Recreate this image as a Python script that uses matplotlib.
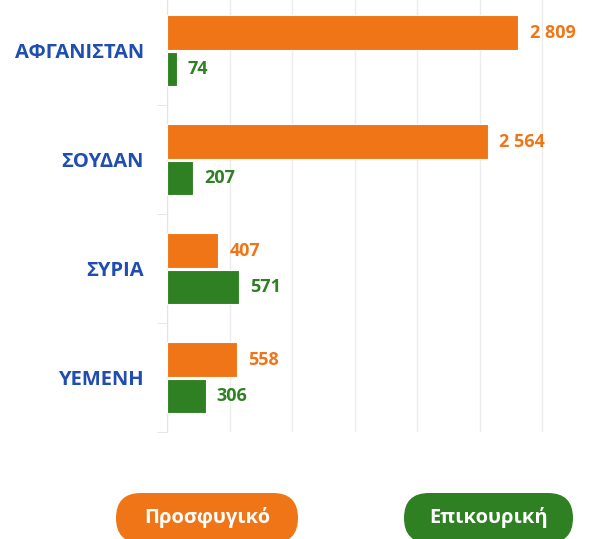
import matplotlib.pyplot as plt
from matplotlib.patches import FancyBboxPatch

countries = ["ΑΦΓΑΝΙΣΤΑΝ", "ΣΟΥΔΑΝ", "ΣΥΡΙΑ", "ΥΕΜΕΝΗ"]
prosfygiko = [2809, 2564, 407, 558]
epikouriki = [74, 207, 571, 306]
series_names = ["Προσφυγικό", "Επικουρική"]

ORANGE = "#f07516"
GREEN = "#2e8022"
BLUE = "#1f4db0"
plt.rcParams['font.family'] = ['Open Sans', 'DejaVu Sans']

W, H = 603, 539
fig = plt.figure(figsize=(W / 100, H / 100), dpi=100)

# plot area in pixel terms
x0, x1 = 167.3, 592.0
ytop, ybot = -4.0, 432.0
ax = fig.add_axes([x0 / W, (H - ybot) / H, (x1 - x0) / W, (ybot - ytop) / H])

xmax = (x1 - x0) / 0.125
h = 0.315
ys = range(len(countries))
ax.barh([y - 0.165 for y in ys], prosfygiko, height=h, color=ORANGE,
        edgecolor="white", linewidth=0.8, zorder=3)
ax.barh([y + 0.17 for y in ys], epikouriki, height=h, color=GREEN,
        edgecolor="white", linewidth=0.8, zorder=3)

def fmt(v):
    return f"{v:,}".replace(",", " ")

for y, v in zip(ys, prosfygiko):
    ax.text(v + 90, y - 0.165, fmt(v), color=ORANGE, fontsize=13,
            fontweight="bold", va="center", ha="left")
for y, v in zip(ys, epikouriki):
    ax.text(v + 90, y + 0.17, fmt(v), color=GREEN, fontsize=13,
            fontweight="bold", va="center", ha="left")

ax.set_xlim(0, xmax)
ax.set_ylim(3.5, -0.5)
ax.set_xticks(range(0, 3001, 500))
ax.set_xticklabels([])
ax.tick_params(axis="x", length=0)
ax.grid(axis="x", color="#ececec", linewidth=1, zorder=0)
ax.set_yticks(list(ys))
ax.set_yticklabels(countries, color=BLUE, fontsize=14.5, fontweight="bold")
ax.set_yticks([-0.5, 0.5, 1.5, 2.5, 3.5], minor=True)
ax.tick_params(axis="y", which="major", length=0, pad=17)
ax.tick_params(axis="y", which="minor", length=7, color="#e3e3e3")
for s in ["top", "right", "bottom"]:
    ax.spines[s].set_visible(False)
ax.spines["left"].set_color("#e3e3e3")

# legend pills
lax = fig.add_axes([0, 0, 1, 1])
lax.set_xlim(0, W)
lax.set_ylim(H, 0)
lax.axis("off")
pills = [(116, 298, ORANGE), (404, 573, GREEN)]
for (a, b, c), name in zip(pills, series_names):
    lax.add_patch(FancyBboxPatch((a, 493), b - a, 50,
                                 boxstyle="round,pad=0,rounding_size=25",
                                 facecolor=c, edgecolor="none"))
    lax.text((a + b) / 2, 518, name, color="white", fontsize=14.5,
             fontweight="bold", ha="center", va="center")

fig.savefig("out.png", dpi=100)
